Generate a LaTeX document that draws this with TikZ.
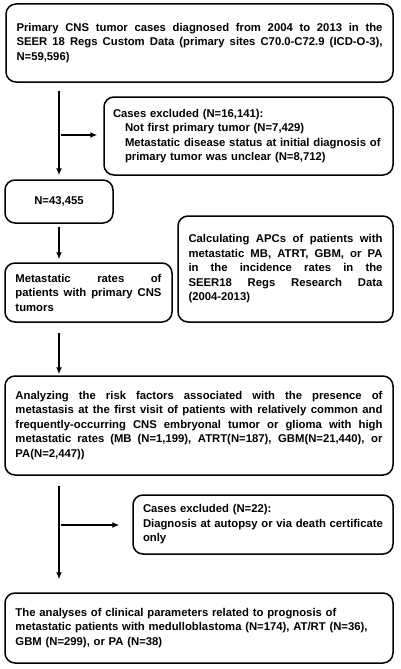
\documentclass[tikz,border=0pt]{standalone}
\usepackage{fontspec}
\setmainfont{Liberation Sans}
\usetikzlibrary{arrows.meta,calc}
\newlength\jlw
\newcommand{\jl}[1]{{\spaceskip=0.278em plus 2em minus 0.12em\xspaceskip=\spaceskip\makebox[\linewidth][s]{#1}}}
\newcommand{\myline}[1]{\settowidth{\jlw}{#1}\ifdim\jlw>\linewidth\jl{#1}\else\mbox{#1}\fi}
\begin{document}
\begin{tikzpicture}[x=1pt,y=-1pt,
  box/.style={draw, line width=1.5pt, rounded corners=10pt, inner ysep=2pt,
    font=\fontsize{11.3}{14.5}\selectfont\bfseries, align=left},
  arr/.style={line width=1.3pt, -{Latex[length=7pt,width=6pt]}}]
\useasboundingbox (0,0) rectangle (400,669);
\node[box, text width=366pt, inner xsep=10.5pt, minimum height=78pt] (b1) at (199.5,43)
 {\jl{Primary CNS tumor cases diagnosed from 2004 to 2013 in the}\\
  \jl{SEER 18 Regs Custom Data (primary sites C70.0-C72.9 (ICD-O-3),}\\
  N=59,596)};
\node[box, text width=271pt, inner xsep=9pt, minimum height=78pt] (b2) at (248.5,136)
 {\myline{Cases excluded (N=16,141):}\\
  \myline{\hspace*{12pt}Not first primary tumor (N=7,429)}\\
  \myline{\hspace*{12pt}Metastatic disease status at initial diagnosis of}\\
  \myline{\hspace*{12pt}primary tumor was unclear (N=8,712)}};
\node[box, align=center, minimum width=108pt, minimum height=43pt] (b3) at (59,201.5) {N=43,455};
\node[box, text width=146pt, inner xsep=10.5pt, minimum height=59pt] (b4) at (88.5,292.5)
 {\jl{Metastatic rates of}\\
  \jl{patients with primary CNS}\\
  tumors};
\node[box, text width=194pt, inner xsep=10.5pt, minimum height=106pt] (b5) at (285.5,269)
 {\jl{Calculating APCs of patients with}\\
  \jl{metastatic MB, ATRT, GBM, or PA}\\
  \jl{in the incidence rates in the}\\
  \jl{SEER18 Regs Research Data}\\
  (2004-2013)};
\node[box, text width=367pt, inner xsep=10.5pt, minimum height=99pt] (b6) at (199,425.5)
 {\jl{Analyzing the risk factors associated with the presence of}\\
  \jl{metastasis at the first visit of patients with relatively common and}\\
  \jl{frequently-occurring CNS embryonal tumor or glioma with high}\\
  \jl{metastatic rates (MB (N=1,199), ATRT(N=187), GBM(N=21,440), or}\\
  PA(N=2,447))};
\node[box, text width=240pt, inner xsep=10pt, minimum height=59pt] (b7) at (263,524.5)
 {\myline{Cases excluded (N=22):}\\
  \myline{Diagnosis at autopsy or via death certificate}\\
  only};
\node[box, text width=367pt, inner xsep=10.5pt, minimum height=70pt] (b8) at (199,628)
 {\myline{The analyses of clinical parameters related to prognosis of}\\
  \myline{metastatic patients with medulloblastoma (N=174), AT/RT (N=36),}\\
  \myline{GBM (N=299), or PA (N=38)}};
\coordinate (s1) at (61,135);
\coordinate (s2) at (61,525);
\draw[arr, shorten <=8pt, shorten >=4pt] (b1.south -| b3.north) -- (b3.north);
\draw[arr, shorten >=6pt] (s1) -- (s1 -| b2.west);
\draw[arr, shorten <=3pt, shorten >=3pt] (b3.south) -- (b4.north -| b3.south);
\draw[arr, shorten <=10pt, shorten >=1pt] (b4.south -| b3.south) -- (b6.north -| b3.south);
\draw[arr, shorten <=10pt, shorten >=13pt] (b6.south -| b3.south) -- (b8.north -| b3.south);
\draw[arr, shorten >=13pt] (s2) -- (s2 -| b7.west);
\end{tikzpicture}
\end{document}
